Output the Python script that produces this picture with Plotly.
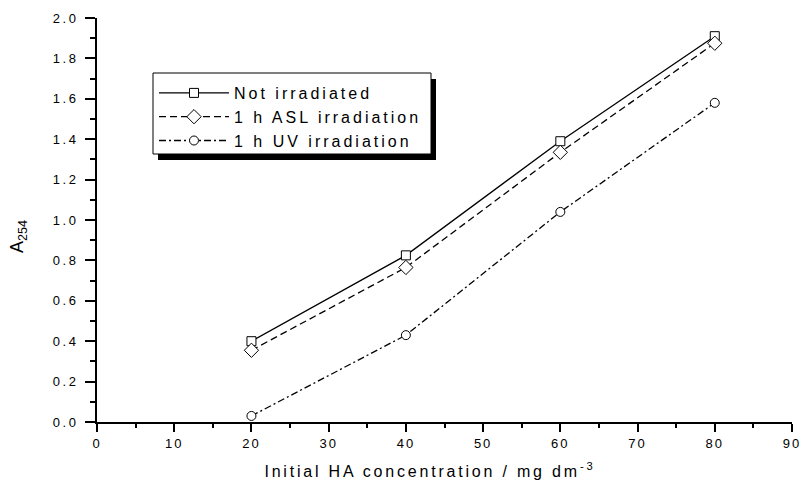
import plotly.graph_objects as go

x_conc = [20, 40, 60, 80]
not_irr = [0.40, 0.825, 1.39, 1.91]
asl_irr = [0.355, 0.765, 1.335, 1.875]
uv_irr = [0.03, 0.43, 1.04, 1.58]
series_names = ["Not irradiated", "1 h ASL irradiation", "1 h UV irradiation"]

FONT = "Arial, Liberation Sans, sans-serif"
W, H = 802, 483
ML, MR, MT, MB = 97, 10, 18, 61
PW, PH = W - ML - MR, H - MT - MB


def px_x(p):
    return (p - ML) / PW


def px_y(p):
    return (H - MB - p) / PH


def mk(symbol, size):
    return dict(symbol=symbol, size=size, color="white", line=dict(width=1, color="black"))


fig = go.Figure()
fig.add_trace(go.Scatter(x=x_conc, y=not_irr, name=series_names[0], mode="lines+markers",
                         line=dict(color="black", width=1.3, dash="solid"), marker=mk("square", 9)))
fig.add_trace(go.Scatter(x=x_conc, y=asl_irr, name=series_names[1], mode="lines+markers",
                         line=dict(color="black", width=1.3, dash="7px,4px"), marker=mk("diamond", 11)))
fig.add_trace(go.Scatter(x=x_conc, y=uv_irr, name=series_names[2], mode="lines+markers",
                         line=dict(color="black", width=1.3, dash="7px,3px,2px,3px"), marker=mk("circle", 9)))

fig.update_layout(
    width=W, height=H,
    margin=dict(l=ML, r=MR, t=MT, b=MB),
    paper_bgcolor="white", plot_bgcolor="white",
    font=dict(family=FONT, size=13, color="black"),
    showlegend=True,
    legend=dict(x=px_x(154), y=px_y(76), xanchor="left", yanchor="top",
                bgcolor="rgba(0,0,0,0)", borderwidth=0,
                font=dict(family=FONT, size=16, color="black"),
                tracegroupgap=0, itemwidth=70),
)
fig.update_xaxes(range=[0, 90], tickmode="linear", tick0=0, dtick=10, automargin=False,
                 showline=True, linecolor="black", linewidth=2,
                 ticks="outside", ticklen=8, tickwidth=1.5, tickcolor="black",
                 minor=dict(ticks="outside", ticklen=4, tickwidth=1.5, dtick=5, tickcolor="black"),
                 showgrid=False, zeroline=False, tickfont=dict(size=13))
fig.update_yaxes(range=[0, 2.0], tickmode="linear", tick0=0, dtick=0.2, tickformat=".1f", automargin=False,
                 showline=True, linecolor="black", linewidth=2,
                 ticks="outside", ticklen=10, tickwidth=1.5, tickcolor="black",
                 minor=dict(ticks="outside", ticklen=5, tickwidth=1.5, dtick=0.1, tickcolor="black"),
                 showgrid=False, zeroline=False, tickfont=dict(size=13), ticklabelstandoff=4)

# axis titles
fig.add_annotation(text="Initial HA concentration / mg dm<sup>-3</sup>", xref="paper", yref="paper",
                   x=px_x(430), y=px_y(470), xanchor="center", yanchor="middle", showarrow=False,
                   font=dict(family=FONT, size=16, color="black"))
fig.add_annotation(text="A<sub>254</sub>", xref="paper", yref="paper", textangle=-90,
                   x=px_x(18), y=px_y(237), xanchor="center", yanchor="middle", showarrow=False,
                   font=dict(family=FONT, size=18, color="black"))

# legend frame with drop shadow
fig.add_shape(type="rect", xref="paper", yref="paper",
              x0=px_x(158), x1=px_x(436), y0=px_y(160), y1=px_y(79),
              fillcolor="black", line=dict(width=0), layer="above")
fig.add_shape(type="rect", xref="paper", yref="paper",
              x0=px_x(153), x1=px_x(431), y0=px_y(154), y1=px_y(73),
              fillcolor="white", line=dict(color="black", width=1), layer="above")

post = """
document.body.style.margin='0';
var s=document.createElement('style');
s.textContent='.legend, .legend *{clip-path:none !important}'+
 '.legendtext{letter-spacing:3px}'+
 '.annotation-text{letter-spacing:2.8px}'+
 '.annotation[data-index="1"] .annotation-text{letter-spacing:0px}'+
 '.xtick text{letter-spacing:2px}'+
 '.ytick text{letter-spacing:2.5px}';
document.head.appendChild(s);
"""
fig.write_html("out.html", post_script=post, config={"displayModeBar": False})
